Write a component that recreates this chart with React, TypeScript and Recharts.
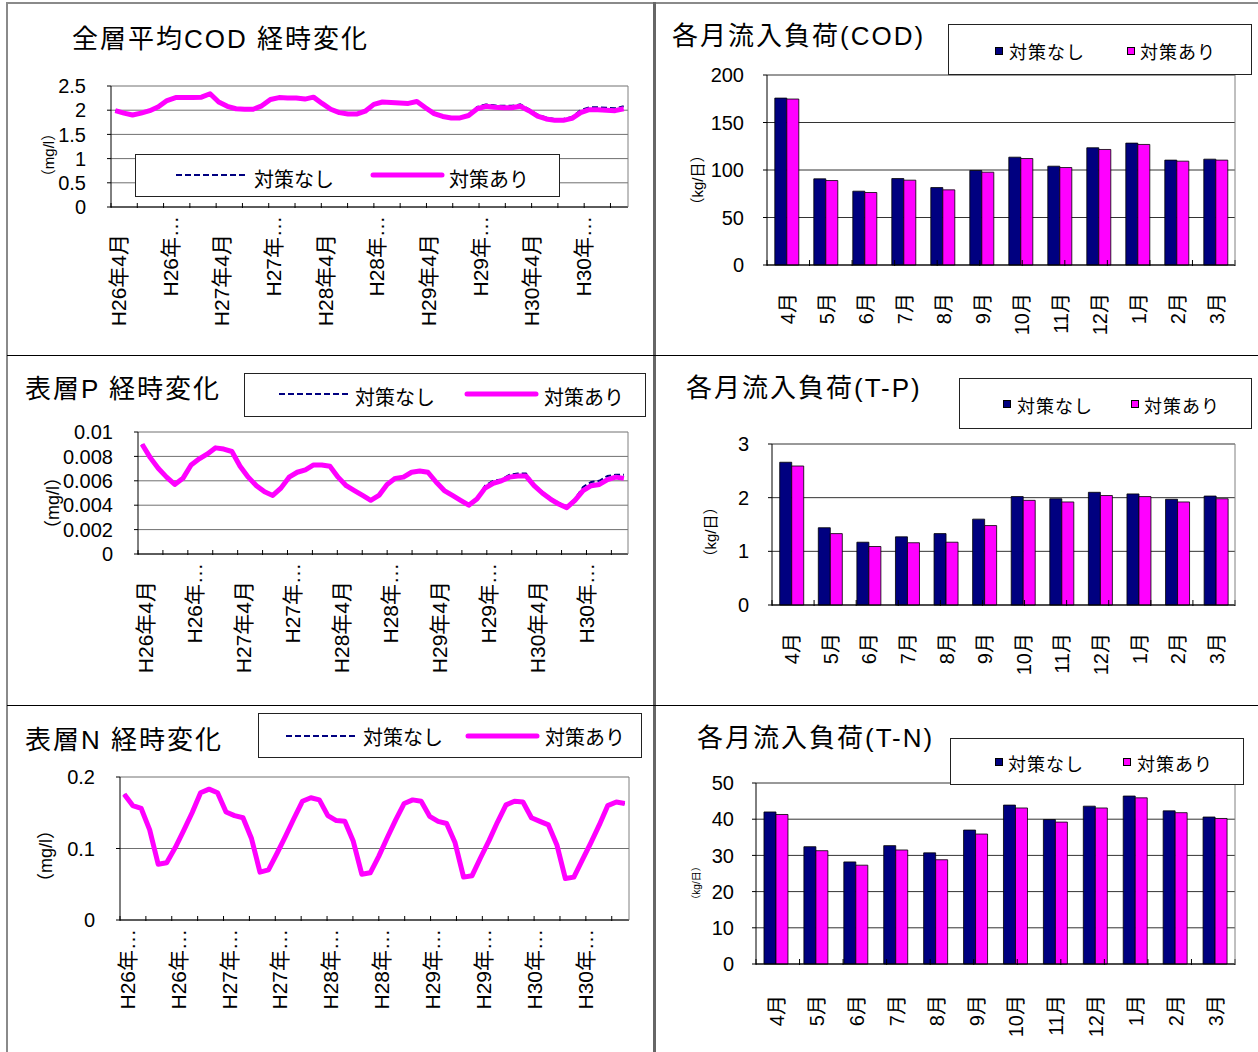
import React from 'react';
import { LineChart, Line, BarChart, Bar, XAxis, YAxis, CartesianGrid } from 'recharts';

const FONT = "'Liberation Sans', 'Noto Sans CJK JP', sans-serif";
const NAVY = '#000080';
const MAGENTA = '#ff00ff';
const LABEL_NASHI = '対策なし';
const LABEL_ARI = '対策あり';

// months H26年4月 .. H31年3月 (fiscal years)
const fiscalYears = ['H26', 'H27', 'H28', 'H29', 'H30'];
const nextYears = ['H27', 'H28', 'H29', 'H30', 'H31'];
const fyMonths = ['4月', '5月', '6月', '7月', '8月', '9月', '10月', '11月', '12月', '1月', '2月', '3月'];
const lineMonths = fiscalYears.flatMap((fy, k) => fyMonths.map((m, j) => `${j < 9 ? fy : nextYears[k]}年${m}`));

// what excel shows every 6th month (long ones get cut)
const longTickLabels = ['H26年4月', 'H26年…', 'H27年4月', 'H27年…', 'H28年4月', 'H28年…', 'H29年4月', 'H29年…', 'H30年4月', 'H30年…'];
const cutTickLabels = ['H26年…', 'H26年…', 'H27年…', 'H27年…', 'H28年…', 'H28年…', 'H29年…', 'H29年…', 'H30年…', 'H30年…'];
// tick marks between months, every 3 months (right edge is the plot border)
const lineTickMarks = [0, 3, 6, 9, 12, 15, 18, 21, 24, 27, 30, 33, 36, 39, 42, 45, 48, 51, 54, 57];

const codNashi = [
  1.99, 1.94, 1.90, 1.94, 1.99, 2.07, 2.20, 2.26, 2.26, 2.26, 2.27, 2.34,
  2.17, 2.08, 2.03, 2.02, 2.02, 2.09, 2.22, 2.26, 2.25, 2.25, 2.23, 2.27,
  2.14, 2.02, 1.95, 1.92, 1.92, 1.98, 2.12, 2.17, 2.16, 2.15, 2.14, 2.18,
  2.05, 1.93, 1.87, 1.84, 1.84, 1.89, 2.07, 2.12, 2.10, 2.09, 2.09, 2.12,
  2.02, 1.91, 1.85, 1.82, 1.82, 1.86, 2.00, 2.06, 2.06, 2.05, 2.04, 2.08,
];
const codAri = [
  1.99, 1.94, 1.90, 1.94, 1.99, 2.07, 2.20, 2.26, 2.26, 2.26, 2.27, 2.34,
  2.17, 2.08, 2.03, 2.02, 2.02, 2.09, 2.22, 2.26, 2.25, 2.25, 2.23, 2.27,
  2.14, 2.02, 1.95, 1.92, 1.92, 1.98, 2.12, 2.17, 2.16, 2.15, 2.14, 2.18,
  2.05, 1.93, 1.87, 1.84, 1.84, 1.89, 2.03, 2.08, 2.06, 2.05, 2.05, 2.08,
  1.99, 1.88, 1.82, 1.79, 1.79, 1.83, 1.95, 2.01, 2.01, 2.00, 1.99, 2.03,
];

const pNashi = [
  0.0090, 0.0079, 0.0070, 0.0063, 0.0057, 0.0062, 0.0073, 0.0078, 0.0082, 0.0087, 0.0086, 0.0084,
  0.0072, 0.0063, 0.0056, 0.0051, 0.0048, 0.0054, 0.0063, 0.0067, 0.0069, 0.0073, 0.0073, 0.0072,
  0.0063, 0.0056, 0.0052, 0.0048, 0.0044, 0.0048, 0.0057, 0.0062, 0.0063, 0.0067, 0.0068, 0.0067,
  0.0059, 0.0052, 0.0048, 0.0044, 0.0040, 0.0045, 0.0056, 0.0060, 0.0061, 0.0065, 0.0066, 0.0066,
  0.0057, 0.0051, 0.0046, 0.0042, 0.0039, 0.0045, 0.0055, 0.0059, 0.0060, 0.0064, 0.0065, 0.0065,
];
const pAri = [
  0.0090, 0.0079, 0.0070, 0.0063, 0.0057, 0.0062, 0.0073, 0.0078, 0.0082, 0.0087, 0.0086, 0.0084,
  0.0072, 0.0063, 0.0056, 0.0051, 0.0048, 0.0054, 0.0063, 0.0067, 0.0069, 0.0073, 0.0073, 0.0072,
  0.0063, 0.0056, 0.0052, 0.0048, 0.0044, 0.0048, 0.0057, 0.0062, 0.0063, 0.0067, 0.0068, 0.0067,
  0.0059, 0.0052, 0.0048, 0.0044, 0.0040, 0.0045, 0.0054, 0.0058, 0.0060, 0.0063, 0.0064, 0.0064,
  0.0056, 0.0050, 0.0045, 0.0041, 0.0038, 0.0044, 0.0052, 0.0056, 0.0057, 0.0061, 0.0063, 0.0062,
];

const nNashi = [
  0.176, 0.160, 0.156, 0.126, 0.078, 0.080, 0.101, 0.125, 0.150, 0.178, 0.183, 0.178,
  0.151, 0.146, 0.143, 0.114, 0.067, 0.070, 0.093, 0.117, 0.142, 0.166, 0.171, 0.168,
  0.146, 0.139, 0.138, 0.110, 0.064, 0.066, 0.089, 0.115, 0.140, 0.163, 0.168, 0.166,
  0.145, 0.138, 0.135, 0.108, 0.060, 0.062, 0.087, 0.111, 0.137, 0.161, 0.166, 0.165,
  0.143, 0.138, 0.133, 0.105, 0.058, 0.060, 0.084, 0.108, 0.133, 0.160, 0.165, 0.163,
];
const nAri = [
  0.176, 0.160, 0.156, 0.126, 0.078, 0.080, 0.101, 0.125, 0.150, 0.178, 0.183, 0.178,
  0.151, 0.146, 0.143, 0.114, 0.067, 0.070, 0.093, 0.117, 0.142, 0.166, 0.171, 0.168,
  0.146, 0.139, 0.138, 0.110, 0.064, 0.066, 0.089, 0.115, 0.140, 0.163, 0.168, 0.166,
  0.145, 0.138, 0.135, 0.108, 0.060, 0.062, 0.087, 0.111, 0.137, 0.161, 0.166, 0.165,
  0.143, 0.138, 0.133, 0.105, 0.058, 0.060, 0.084, 0.108, 0.133, 0.160, 0.165, 0.163,
];

// monthly inflow loads (kg/日)
const barMonths = fyMonths;
const barTickMarks = [0, 1, 2, 3, 4, 5, 6, 7, 8, 9, 10, 11];
const codLoadNashi = [175.7, 90.7, 77.7, 91.0, 81.5, 99.5, 113.5, 104.0, 123.4, 128.3, 110.4, 111.4];
const codLoadAri = [174.7, 88.9, 76.3, 89.3, 79.1, 97.7, 112.1, 102.6, 121.6, 126.9, 109.3, 110.4];
const tpLoadNashi = [2.66, 1.44, 1.17, 1.27, 1.33, 1.60, 2.02, 1.98, 2.10, 2.07, 1.97, 2.03];
const tpLoadAri = [2.59, 1.33, 1.09, 1.16, 1.17, 1.48, 1.95, 1.92, 2.04, 2.02, 1.92, 1.98];
const tnLoadNashi = [42.0, 32.4, 28.2, 32.7, 30.7, 37.0, 43.9, 39.9, 43.6, 46.4, 42.3, 40.6];
const tnLoadAri = [41.3, 31.3, 27.3, 31.5, 28.8, 35.9, 43.1, 39.2, 43.1, 45.9, 41.8, 40.2];

const toRows = (cats: string[], nashi: number[], ari: number[]) =>
  cats.map((month, i) => ({ month, nashi: nashi[i], ari: ari[i] }));

type Box = { x: number; y: number; w: number; h: number };

// chart margins so that the plot area lands on `plot` (y axes are 1px wide, x axes 1px high)
const marginFor = (panel: Box, plot: Box) => ({
  left: plot.x - panel.x - 1,
  right: panel.x + panel.w - (plot.x + plot.w) - 1,
  top: plot.y - panel.y,
  bottom: panel.y + panel.h - (plot.y + plot.h) - 2,
});

const Title = ({ text, x, cy }: { text: string; x: number; cy: number }) => (
  <div style={{ position: 'absolute', left: x, top: cy - 13, fontSize: 26, lineHeight: '26px', letterSpacing: 2, whiteSpace: 'nowrap', color: '#000' }}>
    {text}
  </div>
);

const Unit = ({ text, cx, cy, size }: { text: string; cx: number; cy: number; size: number }) => (
  <div style={{ position: 'absolute', left: cx, top: cy, transform: 'translate(-50%, -50%) rotate(-90deg)', fontSize: size, lineHeight: 1, whiteSpace: 'nowrap', color: '#000' }}>
    {text}
  </div>
);

const LineLegend = ({ box, s1, t1, s2, t2, sy, ty }: { box: Box; s1: number; t1: number; s2: number; t2: number; sy: number; ty: number }) => (
  <div style={{ position: 'absolute', left: box.x, top: box.y, width: box.w, height: box.h, boxSizing: 'border-box', border: '1px solid #222', background: '#fff' }}>
    <svg width={box.w} height={box.h} style={{ position: 'absolute', left: -1, top: -1 }}>
      <line x1={s1} x2={s1 + 69} y1={sy} y2={sy} stroke={NAVY} strokeWidth={2} strokeDasharray="6 3" />
      <line x1={s2} x2={s2 + 69} y1={sy} y2={sy} stroke={MAGENTA} strokeWidth={5} strokeLinecap="round" />
    </svg>
    <span style={{ position: 'absolute', left: t1 - 1, top: ty - 11, fontSize: 20, lineHeight: '20px', whiteSpace: 'nowrap' }}>{LABEL_NASHI}</span>
    <span style={{ position: 'absolute', left: t2 - 1, top: ty - 11, fontSize: 20, lineHeight: '20px', whiteSpace: 'nowrap' }}>{LABEL_ARI}</span>
  </div>
);

const BarLegend = ({ box, q1, t1, q2, t2, qy, ty }: { box: Box; q1: number; t1: number; q2: number; t2: number; qy: number; ty: number }) => (
  <div style={{ position: 'absolute', left: box.x, top: box.y, width: box.w, height: box.h, boxSizing: 'border-box', border: '1px solid #222', background: '#fff' }}>
    <div style={{ position: 'absolute', left: q1 - 1, top: qy - 1, width: 8, height: 8, boxSizing: 'border-box', background: NAVY, border: '1px solid #000' }} />
    <span style={{ position: 'absolute', left: t1 - 1, top: ty - 10, fontSize: 18, lineHeight: '18px', letterSpacing: 1, whiteSpace: 'nowrap' }}>{LABEL_NASHI}</span>
    <div style={{ position: 'absolute', left: q2 - 1, top: qy - 1, width: 8, height: 8, boxSizing: 'border-box', background: MAGENTA, border: '1px solid #000' }} />
    <span style={{ position: 'absolute', left: t2 - 1, top: ty - 10, fontSize: 18, lineHeight: '18px', letterSpacing: 1, whiteSpace: 'nowrap' }}>{LABEL_ARI}</span>
  </div>
);

const LineTick = (props: any) => {
  const { x, y, payload, labels } = props;
  const idx = lineMonths.indexOf(payload.value);
  const text: string = labels[Math.round(idx / 6)] ?? '';
  const cut = text.endsWith('…');
  return (
    <text transform={`translate(${x + 3},${y + (cut ? 9 : 27)}) rotate(-90)`} textAnchor="end" dominantBaseline="central" fontSize={21} fontFamily={FONT} fill="#000">
      {text}
    </text>
  );
};

const BarTick = (props: any) => {
  const { x, y, payload, gap } = props;
  return (
    <text transform={`translate(${x + 1},${y + gap}) rotate(-90)`} textAnchor="end" dominantBaseline="central" fontSize={20} fontFamily={FONT} fill="#000">
      {payload.value}
    </text>
  );
};

const NoLabel = () => <g />;

type LineProps = { panel: Box; plot: Box; rows: any[]; domain: [number, number]; ticks: number[]; labels: string[] };

function LinePanel({ panel, plot, rows, domain, ticks, labels }: LineProps) {
  return (
    <div style={{ position: 'absolute', left: panel.x, top: panel.y }}>
      <LineChart width={panel.w} height={panel.h} data={rows} margin={marginFor(panel, plot)}>
        <CartesianGrid vertical={false} stroke="#707070" />
        <XAxis dataKey="month" scale="band" interval={5} height={1} tickLine={false} tickSize={0} tickMargin={0}
          axisLine={{ stroke: '#000' }} tick={<LineTick labels={labels} />} />
        {/* tick marks sit between categories and point into the plot */}
        <XAxis xAxisId="tk" type="number" domain={[0, 60]} ticks={lineTickMarks} allowDataOverflow height={1} interval={0}
          axisLine={false} tick={NoLabel} tickSize={-5} tickLine={{ stroke: '#000' }} />
        <YAxis width={1} domain={domain} ticks={ticks} interval={0} tickSize={4} tickMargin={21}
          axisLine={{ stroke: '#000' }} tickLine={{ stroke: '#000' }} tick={{ fontSize: 20, fill: '#000', fontFamily: FONT }} />
        <YAxis yAxisId="r" orientation="right" width={1} domain={domain} allowDataOverflow tick={false} tickLine={false}
          axisLine={{ stroke: '#808080' }} />
        <Line dataKey="nashi" name={LABEL_NASHI} stroke={NAVY} strokeWidth={2} strokeDasharray="6 3" dot={false} activeDot={false} isAnimationActive={false} />
        <Line dataKey="ari" name={LABEL_ARI} stroke={MAGENTA} strokeWidth={5} strokeLinejoin="round" dot={false} activeDot={false} isAnimationActive={false} />
      </LineChart>
    </div>
  );
}

type BarProps = { panel: Box; plot: Box; rows: any[]; domain: [number, number]; ticks: number[]; gap: number; tickMargin: number };

function BarPanel({ panel, plot, rows, domain, ticks, gap, tickMargin }: BarProps) {
  return (
    <div style={{ position: 'absolute', left: panel.x, top: panel.y }}>
      <BarChart width={panel.w} height={panel.h} data={rows} margin={marginFor(panel, plot)} barCategoryGap="20%" barGap={0}>
        <CartesianGrid vertical={false} stroke="#333" />
        <XAxis dataKey="month" interval={0} height={1} tickLine={false} tickSize={0} tickMargin={0}
          axisLine={{ stroke: '#000' }} tick={<BarTick gap={gap} />} />
        <XAxis xAxisId="tk" type="number" domain={[0, 12]} ticks={barTickMarks} allowDataOverflow height={1} interval={0}
          axisLine={false} tick={NoLabel} tickSize={-6} tickLine={{ stroke: '#000' }} />
        <YAxis width={1} domain={domain} ticks={ticks} interval={0} tickSize={4} tickMargin={tickMargin}
          axisLine={{ stroke: '#000' }} tickLine={{ stroke: '#000' }} tick={{ fontSize: 20, fill: '#000', fontFamily: FONT }} />
        <YAxis yAxisId="r" orientation="right" width={1} domain={domain} allowDataOverflow tick={false} tickLine={false}
          axisLine={{ stroke: '#808080' }} />
        <Bar dataKey="nashi" name={LABEL_NASHI} fill={NAVY} stroke="#000" strokeWidth={0.8} isAnimationActive={false} />
        <Bar dataKey="ari" name={LABEL_ARI} fill={MAGENTA} stroke="#000" strokeWidth={0.8} isAnimationActive={false} />
      </BarChart>
    </div>
  );
}

export default function App() {
  return (
    <div style={{ position: 'absolute', left: 0, top: 0, width: 1258, height: 1052, background: '#fff', overflow: 'hidden', fontFamily: FONT, color: '#000' }}>
      {/* frame */}
      <div style={{ position: 'absolute', left: 6, top: 2, width: 1252, height: 2, background: '#8a8a8a' }} />
      <div style={{ position: 'absolute', left: 6, top: 2, width: 2, height: 1050, background: '#8a8a8a' }} />
      <div style={{ position: 'absolute', left: 653, top: 2, width: 3, height: 1050, background: '#666' }} />
      <div style={{ position: 'absolute', left: 7, top: 355, width: 1251, height: 1, background: '#000' }} />
      <div style={{ position: 'absolute', left: 7, top: 705, width: 1251, height: 1, background: '#000' }} />

      {/* 全層平均COD */}
      <LinePanel panel={{ x: 8, y: 4, w: 645, h: 350 }} plot={{ x: 111, y: 86, w: 517, h: 121 }}
        rows={toRows(lineMonths, codNashi, codAri)} domain={[0, 2.5]} ticks={[0, 0.5, 1, 1.5, 2, 2.5]} labels={longTickLabels} />
      <Title text="全層平均COD 経時変化" x={72} cy={39} />
      <Unit text="（mg/l）" cx={48} cy={155} size={15} />
      <LineLegend box={{ x: 135, y: 154, w: 425, h: 43 }} s1={41} t1={119} s2={238} t2={314} sy={21} ty={26} />

      {/* 各月流入負荷(COD) */}
      <BarPanel panel={{ x: 657, y: 4, w: 600, h: 350 }} plot={{ x: 767, y: 75, w: 468, h: 190 }}
        rows={toRows(barMonths, codLoadNashi, codLoadAri)} domain={[0, 200]} ticks={[0, 50, 100, 150, 200]} gap={28} tickMargin={19} />
      <Title text="各月流入負荷(COD)" x={672} cy={36} />
      <Unit text="（kg/日）" cx={697} cy={180} size={15} />
      <BarLegend box={{ x: 948, y: 24, w: 304, h: 51 }} q1={47} t1={61} q2={179} t2={192} qy={23} ty={29} />

      {/* 表層P */}
      <LinePanel panel={{ x: 8, y: 356, w: 645, h: 348 }} plot={{ x: 138, y: 432, w: 490, h: 122 }}
        rows={toRows(lineMonths, pNashi, pAri)} domain={[0, 0.01]} ticks={[0, 0.002, 0.004, 0.006, 0.008, 0.01]} labels={longTickLabels} />
      <Title text="表層P 経時変化" x={25} cy={389} />
      <Unit text="（mg/l）" cx={53} cy={503} size={18} />
      <LineLegend box={{ x: 244, y: 373, w: 402, h: 44 }} s1={35} t1={111} s2={223} t2={300} sy={21} ty={25} />

      {/* 各月流入負荷(T-P) */}
      <BarPanel panel={{ x: 657, y: 356, w: 600, h: 348 }} plot={{ x: 772, y: 444, w: 463, h: 161 }}
        rows={toRows(barMonths, tpLoadNashi, tpLoadAri)} domain={[0, 3]} ticks={[0, 1, 2, 3]} gap={28} tickMargin={19} />
      <Title text="各月流入負荷(T-P)" x={686} cy={388} />
      <Unit text="（kg/日）" cx={710} cy={532} size={15} />
      <BarLegend box={{ x: 959, y: 378, w: 293, h: 51 }} q1={44} t1={58} q2={172} t2={185} qy={22} ty={29} />

      {/* 表層N */}
      <LinePanel panel={{ x: 8, y: 706, w: 645, h: 346 }} plot={{ x: 120, y: 777, w: 509, h: 143 }}
        rows={toRows(lineMonths, nNashi, nAri)} domain={[0, 0.2]} ticks={[0, 0.1, 0.2]} labels={cutTickLabels} />
      <Title text="表層N 経時変化" x={25} cy={740} />
      <Unit text="（mg/l）" cx={46} cy={856} size={18} />
      <LineLegend box={{ x: 258, y: 713, w: 384, h: 45 }} s1={28} t1={105} s2={210} t2={287} sy={23} ty={25} />

      {/* 各月流入負荷(T-N) */}
      <BarPanel panel={{ x: 657, y: 706, w: 600, h: 346 }} plot={{ x: 756, y: 783, w: 479, h: 181 }}
        rows={toRows(barMonths, tnLoadNashi, tnLoadAri)} domain={[0, 50]} ticks={[0, 10, 20, 30, 40, 50]} gap={31} tickMargin={18} />
      <Title text="各月流入負荷(T-N)" x={697} cy={738} />
      <Unit text="（kg/日）" cx={697} cy={883} size={10} />
      <BarLegend box={{ x: 950, y: 738, w: 294, h: 47 }} q1={45} t1={58} q2={173} t2={187} qy={20} ty={27} />
    </div>
  );
}
